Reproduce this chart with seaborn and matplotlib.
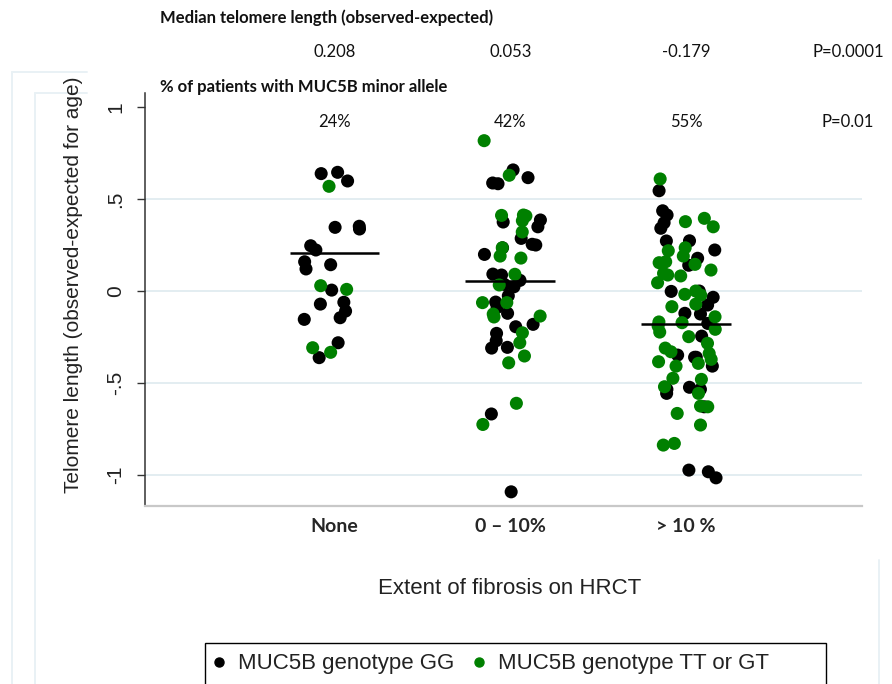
import numpy as np
import pandas as pd
import seaborn as sns
import matplotlib
matplotlib.use("Agg")
import matplotlib.pyplot as plt
from matplotlib.lines import Line2D
from matplotlib.patches import Rectangle
from matplotlib.transforms import blended_transform_factory

# ---------------- data ----------------
categories = ["None", "0 \u2013 10%", "> 10 %"]
genotypes = ["MUC5B genotype GG", "MUC5B genotype TT or GT"]

none_gg = [0.645, 0.598, 0.638, 0.346, 0.352, 0.337, 0.246, 0.223, 0.120, 0.143,
           0.159, 0.005, -0.061, -0.071, -0.109, -0.145, -0.154, -0.281, -0.362]
none_gt = [0.569, 0.029, 0.009, -0.333, -0.308]

mid_gg = [0.658, 0.616, 0.583, 0.587, 0.375, 0.349, 0.386, 0.286, 0.250, 0.254,
          0.235, 0.199, 0.058, 0.023, 0.087, 0.092, 0.036, -0.026, -0.060, -0.089,
          -0.121, -0.181, -0.194, -0.230, -0.270, -0.306, -0.310, -0.668, -1.091]
mid_gt = [0.817, 0.629, 0.411, 0.413, 0.408, 0.382, 0.321, 0.235, 0.179, 0.190,
          0.091, 0.033, -0.063, -0.063, -0.141, -0.136, -0.125, -0.227, -0.281,
          -0.353, -0.390, -0.610, -0.725]

high_gg = [0.545, 0.413, 0.371, 0.341, 0.436, 0.273, 0.272, 0.223, 0.178, 0.140,
           0.000, -0.002, -0.034, -0.076, -0.125, -0.121, -0.176, -0.245, -0.360,
           -0.408, -0.360, -0.348, -0.523, -0.534, -0.556, -0.534, -0.629, -1.015,
           -0.982, -0.973]
high_gt = [0.609, 0.377, 0.349, 0.395, 0.235, 0.190, 0.219, 0.159, 0.154, 0.114,
           0.145, 0.096, 0.082, 0.045, 0.087, -0.022, 0.000, -0.018, -0.085, -0.071,
           -0.140, -0.172, -0.168, -0.190, -0.223, -0.208, -0.248, -0.284, -0.310,
           -0.330, -0.393, -0.371, -0.408, -0.384, -0.339, -0.474, -0.480, -0.520,
           -0.556, -0.629, -0.625, -0.665, -0.728, -0.837, -0.828]

medians = [0.208, 0.053, -0.179]
median_labels = ["0.208", "0.053", "-0.179"]
allele_pct = ["24%", "42%", "55%"]
p_median = "P=0.0001"
p_allele = "P=0.01"
header_median = "Median telomere length (observed-expected)"
header_allele = "% of patients with MUC5B minor allele"
ytick_vals = [-1, -0.5, 0, 0.5, 1]
ytick_labels = ["-1", "-.5", "0", ".5", "1"]
ylabel = "Telomere length (observed-expected for age)"
xlabel = "Extent of fibrosis on HRCT"

groups = [(none_gg, none_gt), (mid_gg, mid_gt), (high_gg, high_gt)]
rows = []
for cat, (gg, gt) in zip(categories, groups):
    rows += [(cat, genotypes[0], v) for v in gg]
    rows += [(cat, genotypes[1], v) for v in gt]
df = pd.DataFrame(rows, columns=["extent", "genotype", "tl"])

# ---------------- style ----------------
sns.set_style("white")
plt.rcParams["font.family"] = ["Liberation Sans", "DejaVu Sans"]

W, H = 892, 684
fig = plt.figure(figsize=(W / 100, H / 100), dpi=100)
fig.patch.set_facecolor("white")

def fx(px):
    return px / W

def fy(py):
    return 1 - py / H

# faint outer region frames
faint = "#e9f1f5"
for (x0, y0, x1, y1) in [(12, 72, 12, 684), (12, 72, 87, 72),
                         (35, 93, 35, 684), (35, 93, 87, 93),
                         (879, 560, 879, 684)]:
    fig.add_artist(Line2D([fx(x0), fx(x1)], [fy(y0), fy(y1)],
                          transform=fig.transFigure, color=faint, lw=1.4, zorder=0))

ax = fig.add_axes([fx(145), fy(506), fx(862) - fx(145), fy(93) - fy(506)])
ax.set_facecolor("none")

black = "#000000"
green = "#008000"
np.random.seed(3)
sns.stripplot(data=df, x="extent", y="tl", hue="genotype", order=categories,
              hue_order=genotypes, palette=[black, green], jitter=0.18,
              size=9.4, linewidth=0, ax=ax, legend=False, zorder=3)

for g in [0.5, 0, -0.5, -1]:
    ax.axhline(g, color="#e3edf1", lw=1.4, zorder=0)

xpos = np.arange(len(categories))
ax.hlines(medians, xpos - 0.255, xpos + 0.255, color="black", lw=1.8, zorder=4)

ax.set_xlim(-1.077, 3.0)
ax.set_ylim(-1.168, 1.076)
ax.set_yticks(ytick_vals)
ax.set_yticklabels(ytick_labels, rotation=90, va="center", fontsize=15)
ax.tick_params(axis="y", left=True, direction="out", length=6, width=1,
               color="#333333", pad=8, labelcolor="#222222")
ax.tick_params(axis="x", bottom=False, length=0, pad=9)
for lab in ax.get_xticklabels():
    lab.set_fontfamily(["Lato", "DejaVu Sans"])
    lab.set_fontweight("bold")
    lab.set_fontsize(14)

for s in ["top", "right"]:
    ax.spines[s].set_visible(False)
ax.spines["left"].set_color("#333333")
ax.spines["left"].set_linewidth(1.1)
ax.spines["bottom"].set_color("#c8c8c8")
ax.spines["bottom"].set_linewidth(1.6)

ax.set_ylabel(ylabel, fontsize=15, color="#222222")
ax.yaxis.set_label_coords((83 - 145) / 717, 0.535)
ax.set_xlabel(xlabel, fontsize=16, color="#222222")
ax.xaxis.set_label_coords((510 - 145) / 717, -(578 - 506) / 413)

# top annotation texts
tr = blended_transform_factory(ax.transData, fig.transFigure)
hfont = dict(family=["Lato", "DejaVu Sans"], fontsize=12, fontweight="bold", color="#111111")
vfont = dict(family=["Lato", "DejaVu Sans"], fontsize=12, color="#111111")
fig.text(fx(160), fy(18), header_median, ha="left", va="center", **hfont)
fig.text(fx(160), fy(87), header_allele, ha="left", va="center", **hfont)
for i in range(len(categories)):
    ax.text(xpos[i], fy(52), median_labels[i], transform=tr, ha="center", va="center", **vfont)
    ax.text(xpos[i], fy(122), allele_pct[i], transform=tr, ha="center", va="center", **vfont)
fig.text(fx(848), fy(52), p_median, ha="center", va="center", **vfont)
fig.text(fx(848), fy(122), p_allele, ha="center", va="center", **vfont)

# legend
fig.add_artist(Rectangle((fx(205), fy(692)), fx(826) - fx(205), fy(643) - fy(692),
                         transform=fig.transFigure, fill=False, edgecolor="black", lw=1.0))
handles = [Line2D([0], [0], marker="o", ls="", color=c, markersize=6.5) for c in (black, green)]
fig.legend(handles, genotypes, loc="center left", bbox_to_anchor=(fx(212), fy(664)),
           ncol=2, frameon=False, fontsize=16, borderpad=0, borderaxespad=0,
           handlelength=0.6, handletextpad=0.56, columnspacing=0.82,
           labelcolor="#222222")

fig.savefig("out.png", dpi=100, facecolor="white")
